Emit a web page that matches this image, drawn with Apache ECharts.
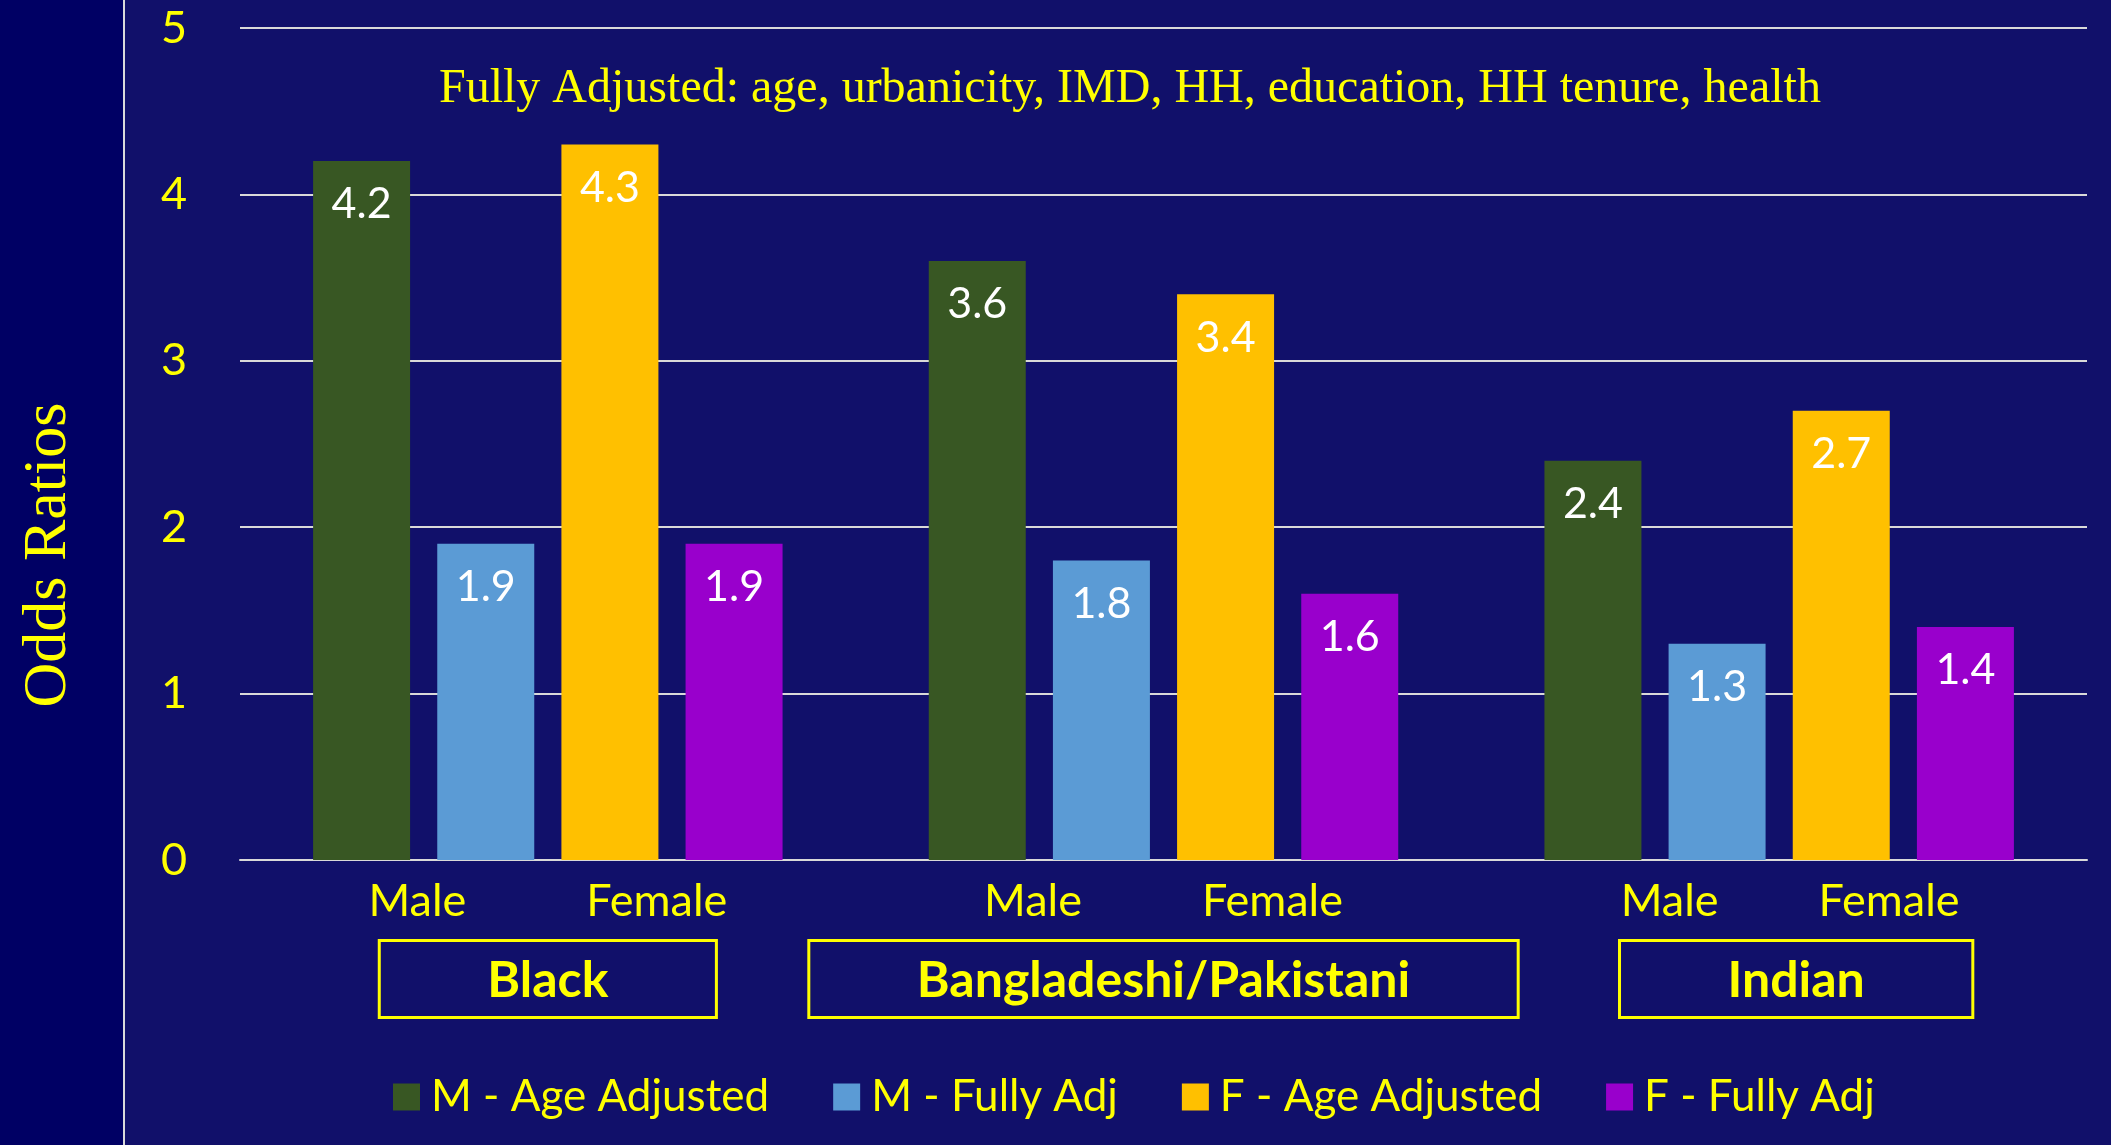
<!DOCTYPE html>
<html>
<head>
<meta charset="utf-8">
<script src="https://cdn.jsdelivr.net/npm/echarts@6/dist/echarts.min.js"></script>
<style>
html,body{margin:0;padding:0;background:#11106a;}
#chart{width:2111px;height:1145px;}
</style>
</head>
<body>
<div id="chart"></div>
<script>
// data
var groups = ['Black', 'Bangladeshi/Pakistani', 'Indian'];
var genders = ['Male', 'Female'];
var seriesNames = ['M - Age Adjusted', 'M - Fully Adj', 'F - Age Adjusted', 'F - Fully Adj'];
var mAgeAdj = [4.2, 3.6, 2.4];
var mFullyAdj = [1.9, 1.8, 1.3];
var fAgeAdj = [4.3, 3.4, 2.7];
var fFullyAdj = [1.9, 1.6, 1.4];
var yMin = 0, yMax = 5, yStep = 1;
var note = 'Fully Adjusted: age, urbanicity, IMD, HH, education, HH tenure, health';
var yName = 'Odds Ratios';

var colors = ['#385723', '#5b9bd5', '#ffc000', '#9900cc'];
var yellow = '#ffff00';
var sans = 'Lato';
var serif = 'Liberation Serif';

function barSeries(name, data, color){
	return {
		name: name,
		type: 'bar',
		data: data,
		barWidth: 97,
		barGap: '28%',
		itemStyle: { color: color },
		label: {
			show: true,
			position: 'insideTop',
			distance: 22,
			color: '#fff',
			fontSize: 43,
			fontFamily: sans,
			formatter: function(p){ return p.value.toFixed(1); }
		}
	};
}

// small helper for style merging
function extend(a, b, c){ var o = {}, k; for (k in a) o[k] = a[k]; for (k in b) o[k] = b[k]; for (k in c) o[k] = c[k]; return o; }
var gTxt = { color: yellow, fontSize: 45, fontFamily: sans, lineHeight: 52 };
var rich = {
	m: extend(gTxt, { padding: [0, 120, 48, 0] }),
	m2: extend(gTxt, { padding: [0, 100, 48, 0] }),
	f: extend(gTxt, { padding: [0, 0, 48, 0] }),
	sp: { width: 22, height: 10 },
	sp2: { width: 34, height: 10 },
	box: {
		color: yellow, fontSize: 50, fontWeight: 'bold', fontFamily: sans,
		lineHeight: 56, borderColor: yellow, borderWidth: 3,
		padding: [15, 108, 12, 108]
	}
};

var myChart = echarts.init(document.getElementById('chart'));
var option = {
	backgroundColor: '#11106a',
	animation: false,
	title: {
		text: note,
		left: 434,
		top: 60,
		textStyle: { color: yellow, fontFamily: serif, fontWeight: 'normal', fontSize: 48 }
	},
	graphic: [
		{ type: 'rect', z: -10, shape: { x: 0, y: 0, width: 123, height: 1145 }, style: { fill: '#000064' } },
		{ type: 'line', z: -9, shape: { x1: 124, y1: 0, x2: 124, y2: 1145 }, style: { stroke: '#d9d9d9', lineWidth: 2 } }
	],
	legend: {
		data: seriesNames,
		left: 388,
		top: 1070,
		icon: 'rect',
		itemWidth: 27,
		itemHeight: 27,
		itemGap: 64,
		textStyle: { color: yellow, fontSize: 44, fontFamily: sans, padding: [0, 0, 0, 6] }
	},
	grid: { left: 240, right: 24, top: 28, bottom: 285 },
	xAxis: {
		type: 'category',
		data: groups,
		axisTick: { show: false },
		axisLine: { lineStyle: { color: '#d9d9d9', width: 2 } },
		axisLabel: {
			interval: 0,
			margin: 39,
			formatter: function(v, i){
				if (i === 2) {
					return '{sp|}{m2|' + genders[0] + '}{f|' + genders[1] + '}\n{sp2|}{box|' + v + '}';
				}
				return '{m|' + genders[0] + '}{f|' + genders[1] + '}\n{box|' + v + '}';
			},
			rich: rich
		}
	},
	yAxis: {
		type: 'value',
		min: yMin,
		max: yMax,
		interval: yStep,
		name: yName,
		nameLocation: 'middle',
		nameGap: 160,
		nameTextStyle: { color: yellow, fontFamily: serif, fontSize: 62, padding: [0, 222, 0, 0] },
		axisLabel: { color: yellow, fontSize: 45, fontFamily: sans, margin: 53 },
		splitLine: { lineStyle: { color: '#d9d9d9', width: 2 } }
	},
	series: [
		barSeries(seriesNames[0], mAgeAdj, colors[0]),
		barSeries(seriesNames[1], mFullyAdj, colors[1]),
		barSeries(seriesNames[2], fAgeAdj, colors[2]),
		barSeries(seriesNames[3], fFullyAdj, colors[3])
	]
};
myChart.setOption(option);
</script>
</body>
</html>
